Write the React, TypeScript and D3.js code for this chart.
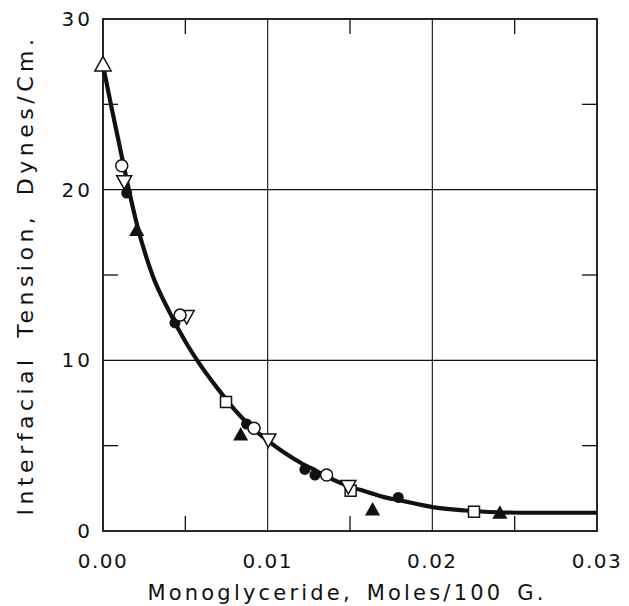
import * as d3 from 'd3'

// smooth fitted curve
const curveX = [0, 0.0005, 0.001, 0.0015, 0.002, 0.003, 0.004, 0.005, 0.006, 0.007, 0.008, 0.009, 0.01, 0.011, 0.012, 0.013, 0.014, 0.015, 0.016, 0.017, 0.018, 0.019, 0.02, 0.022, 0.024, 0.026, 0.028, 0.03]
const curveY = [27.3, 24.9, 22.6, 20.3, 18.2, 15.0, 12.9, 11.1, 9.6, 8.3, 7.1, 6.1, 5.3, 4.6, 4.0, 3.5, 3.0, 2.6, 2.3, 2.0, 1.8, 1.6, 1.4, 1.2, 1.1, 1.07, 1.07, 1.07]

// measured points, one pair of arrays per marker kind
const openTriUpX = [0]
const openTriUpY = [27.3]
const openCircleX = [0.00114, 0.00468, 0.00917, 0.01358]
const openCircleY = [21.4, 12.65, 6.02, 3.28]
const openTriDownX = [0.00129, 0.00508, 0.01004, 0.0149]
const openTriDownY = [20.5, 12.6, 5.37, 2.64]
const filledCircleX = [0.00144, 0.00437, 0.00872, 0.01226, 0.01287, 0.01793]
const filledCircleY = [19.8, 12.2, 6.27, 3.61, 3.28, 1.97]
const filledTriUpX = [0.00205, 0.00836, 0.01637, 0.0241]
const filledTriUpY = [17.6, 5.62, 1.23, 1.04]
const openSquareX = [0.00747, 0.01504, 0.02253]
const openSquareY = [7.56, 2.36, 1.13]

const xTicks = [0, 0.01, 0.02, 0.03]
const xTickLabels = ['0.00', '0.01', '0.02', '0.03']
const xMinor = [0.005, 0.015, 0.025]
const yTicks = [0, 10, 20, 30]
const yTickLabels = ['0', '10', '20', '30']
const yMinor = [5, 15, 25]

const W = 629
const H = 606
const margin = { top: 19, right: 32, bottom: 75, left: 103 }
const ink = '#111'
const font = '"DejaVu Sans", sans-serif'

const x = d3.scaleLinear().domain([0, 0.03]).range([margin.left, W - margin.right])
const y = d3.scaleLinear().domain([0, 30]).range([H - margin.bottom, margin.top])

const pts = (xs: number[], ys: number[]) => xs.map((v, i) => [x(v), y(ys[i])] as [number, number])

const triUp = (cx: number, cy: number, s: number) =>
  `M${cx},${cy - s * 0.62}L${cx + s * 0.58},${cy + s * 0.42}L${cx - s * 0.58},${cy + s * 0.42}Z`
const triDown = (cx: number, cy: number, s: number) =>
  `M${cx},${cy + s * 0.62}L${cx + s * 0.58},${cy - s * 0.42}L${cx - s * 0.58},${cy - s * 0.42}Z`

export default function App() {
  const line = d3
    .line<[number, number]>()
    .x((d) => d[0])
    .y((d) => d[1])
    .curve(d3.curveMonotoneX)
  const [x0, x1] = x.range()
  const [y0, y1] = y.range()
  const tick = 15

  return (
    <div>
      <style>{'body{margin:0;background:#fff}'}</style>
      <svg width={W} height={H} style={{ display: 'block', background: '#fff' }}>
        {/* grid */}
        {xTicks.slice(1, -1).map((t) => (
          <line key={'gx' + t} x1={x(t)} x2={x(t)} y1={y0} y2={y1} stroke={ink} strokeWidth={1.1} />
        ))}
        {yTicks.slice(1, -1).map((t) => (
          <line key={'gy' + t} x1={x0} x2={x1} y1={y(t)} y2={y(t)} stroke={ink} strokeWidth={1.1} />
        ))}
        {/* minor ticks, inward on all four sides */}
        {xMinor.map((t) => (
          <g key={'mx' + t}>
            <line x1={x(t)} x2={x(t)} y1={y0} y2={y0 - tick} stroke={ink} strokeWidth={1.3} />
            <line x1={x(t)} x2={x(t)} y1={y1} y2={y1 + tick} stroke={ink} strokeWidth={1.3} />
          </g>
        ))}
        {yMinor.map((t) => (
          <g key={'my' + t}>
            <line x1={x0} x2={x0 + tick} y1={y(t)} y2={y(t)} stroke={ink} strokeWidth={1.3} />
            <line x1={x1} x2={x1 - tick} y1={y(t)} y2={y(t)} stroke={ink} strokeWidth={1.3} />
          </g>
        ))}
        {/* frame */}
        <rect x={x0} y={y1} width={x1 - x0} height={y0 - y1} fill="none" stroke={ink} strokeWidth={1.8} />

        {/* fitted curve */}
        <path d={line(pts(curveX, curveY)) ?? ''} fill="none" stroke={ink} strokeWidth={4.2} strokeLinejoin="round" />

        {/* markers */}
        {pts(filledCircleX, filledCircleY).map(([cx, cy], i) => (
          <circle key={'fc' + i} cx={cx} cy={cy} r={5.5} fill={ink} />
        ))}
        {pts(filledTriUpX, filledTriUpY).map(([cx, cy], i) => (
          <path key={'ft' + i} d={triUp(cx, cy, 13)} fill={ink} />
        ))}
        {pts(openSquareX, openSquareY).map(([cx, cy], i) => (
          <rect key={'os' + i} x={cx - 5.5} y={cy - 5.5} width={11} height={11} fill="#fff" stroke={ink} strokeWidth={1.5} />
        ))}
        {pts(openTriDownX, openTriDownY).map(([cx, cy], i) => (
          <path key={'otd' + i} d={triDown(cx, cy, 13)} fill="#fff" stroke={ink} strokeWidth={1.5} />
        ))}
        {pts(openCircleX, openCircleY).map(([cx, cy], i) => (
          <circle key={'oc' + i} cx={cx} cy={cy} r={6} fill="#fff" stroke={ink} strokeWidth={1.5} />
        ))}
        {pts(openTriUpX, openTriUpY).map(([cx, cy], i) => (
          <path key={'otu' + i} d={triUp(cx, cy, 14)} fill="#fff" stroke={ink} strokeWidth={1.5} />
        ))}

        {/* tick labels */}
        {xTicks.map((t, i) => (
          <text key={'xl' + t} x={x(t)} y={568} textAnchor="middle" fontFamily={font} fontSize={20} letterSpacing={1.5} fill={ink}>
            {xTickLabels[i]}
          </text>
        ))}
        {yTicks.map((t, i) => (
          <text key={'yl' + t} x={93} y={y(t) + 7} textAnchor="end" fontFamily={font} fontSize={20} letterSpacing={3} fill={ink}>
            {yTickLabels[i]}
          </text>
        ))}

        {/* axis titles */}
        <text x={347} y={600} textAnchor="middle" fontFamily={font} fontSize={21} letterSpacing={3.2} wordSpacing={4} fill={ink}>
          Monoglyceride, Moles/100 G.
        </text>
        <text
          transform={`translate(33,${275}) rotate(-90)`}
          textAnchor="middle"
          fontFamily={font}
          fontSize={22}
          letterSpacing={4.5}
          wordSpacing={6}
          fill={ink}
        >
          Interfacial Tension, Dynes/Cm.
        </text>
      </svg>
    </div>
  )
}
